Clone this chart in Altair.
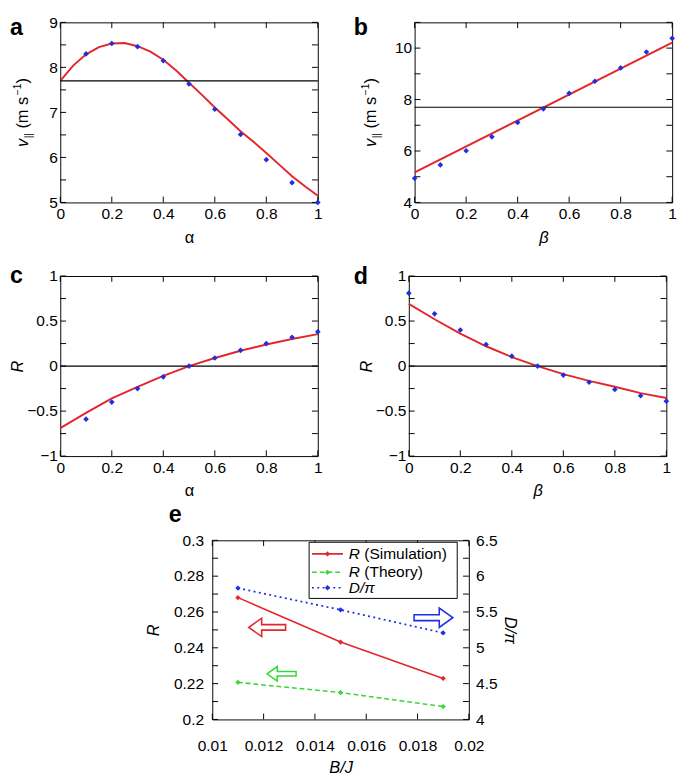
import altair as alt
import pandas as pd

FONT = "Liberation Sans"
RED = "#e3262b"
BLUE = "#1f2ee0"
GREEN = "#38d838"

# ---------------- data ----------------
a_fit_x = [0.0, 0.05, 0.1, 0.15, 0.2, 0.25, 0.3, 0.35, 0.4, 0.45, 0.5,
           0.55, 0.6, 0.65, 0.7, 0.75, 0.8, 0.85, 0.9, 0.95, 1.0]
a_fit_y = [7.70, 8.04, 8.29, 8.45, 8.53, 8.54, 8.47, 8.35, 8.17, 7.93, 7.66,
           7.39, 7.11, 6.85, 6.58, 6.35, 6.10, 5.84, 5.58, 5.36, 5.15]
a_pts_x = [0.1, 0.2, 0.3, 0.4, 0.5, 0.6, 0.7, 0.8, 0.9, 1.0]
a_pts_y = [8.30, 8.53, 8.46, 8.15, 7.63, 7.07, 6.51, 5.95, 5.44, 5.00]
a_ref = [7.7]

b_fit_x = [0.0, 1.0]
b_fit_y = [5.17, 10.21]
b_pts_x = [0.0, 0.1, 0.2, 0.3, 0.4, 0.5, 0.6, 0.7, 0.8, 0.9, 1.0]
b_pts_y = [4.94, 5.46, 6.01, 6.55, 7.11, 7.64, 8.24, 8.71, 9.23, 9.85, 10.38]
b_ref = [7.7]

c_fit_x = [0.0, 0.1, 0.2, 0.3, 0.4, 0.5, 0.6, 0.7, 0.8, 0.9, 1.0]
c_fit_y = [-0.69, -0.52, -0.36, -0.23, -0.11, 0.0, 0.09, 0.17, 0.24, 0.30, 0.355]
c_pts_x = [0.1, 0.2, 0.3, 0.4, 0.5, 0.6, 0.7, 0.8, 0.9, 1.0]
c_pts_y = [-0.59, -0.40, -0.25, -0.12, 0.0, 0.09, 0.175, 0.25, 0.32, 0.38]
c_ref = [0.0]

d_fit_x = [0.0, 0.1, 0.2, 0.3, 0.4, 0.5, 0.6, 0.7, 0.8, 0.9, 1.0]
d_fit_y = [0.69, 0.52, 0.36, 0.22, 0.10, 0.0, -0.09, -0.165, -0.23, -0.30, -0.355]
d_pts_x = [0.0, 0.1, 0.2, 0.3, 0.4, 0.5, 0.6, 0.7, 0.8, 0.9, 1.0]
d_pts_y = [0.81, 0.58, 0.40, 0.24, 0.11, 0.0, -0.10, -0.18, -0.26, -0.33, -0.39]
d_ref = [0.0]

e_x = [0.011, 0.015, 0.019]
e_r_sim = [0.268, 0.2432, 0.2229]
e_r_theory = [0.2207, 0.2150, 0.2072]
e_d_pi = [5.833, 5.53, 5.207]
# annotation arrows (x, y on their own axis)
e_arrow_red = ([0.01214], [0.2514])
e_arrow_green = ([0.0127], [0.2255])
e_arrow_blue = ([0.01862], [5.42])

# tick values
ab_x_ticks = [0, 0.2, 0.4, 0.6, 0.8, 1]
a_y_ticks = [5, 5.5, 6, 6.5, 7, 7.5, 8, 8.5, 9]
b_y_ticks = [4, 5, 6, 7, 8, 9, 10, 11]
cd_y_ticks = [-1, -0.75, -0.5, -0.25, 0, 0.25, 0.5, 0.75, 1]
e_x_ticks = [0.01, 0.012, 0.014, 0.016, 0.018, 0.02]
e_yl_ticks = [0.2, 0.21, 0.22, 0.23, 0.24, 0.25, 0.26, 0.27, 0.28, 0.29, 0.3]
e_yr_ticks = [4, 4.25, 4.5, 4.75, 5, 5.25, 5.5, 5.75, 6, 6.25, 6.5]

leg_main = ["R", "R", "D/π"]
leg_rest = ["(Simulation)", "(Theory)", ""]

LEFT_ARROW = "M -1 0 L -0.3 -0.5 L -0.3 -0.15 L 1 -0.15 L 1 0.15 L -0.3 0.15 L -0.3 0.5 Z"
RIGHT_ARROW = "M 1 0 L 0.3 -0.5 L 0.3 -0.15 L -1 -0.15 L -1 0.15 L 0.3 0.15 L 0.3 0.5 Z"

FS = 16     # tick labels
TFS = 17    # axis titles
TICK = 6


def ax(orient, values, title=None, label_expr=None, label_pad=6, title_pad=6,
       title_style="normal"):
    kw = dict(orient=orient, values=values, domain=False, ticks=False, grid=False,
              labelFont=FONT, labelFontSize=FS, labelColor="black",
              labelPadding=label_pad, labelOverlap=False, labelFlush=False, format="~g")
    if label_expr:
        kw["labelExpr"] = label_expr
    if title:
        kw.update(title=title, titleFont=FONT, titleFontSize=TFS, titleFontWeight="normal",
                  titleColor="black", titlePadding=title_pad, titleFontStyle=title_style)
    else:
        kw["title"] = None
    return alt.Axis(**kw)


def text_layer(txt, x, y, **mk):
    return alt.Chart(pd.DataFrame({"t": [txt]})).mark_text(font=FONT, color="black", **mk).encode(
        x=alt.value(x), y=alt.value(y), text="t:N")


def tick_layers(xvals, yvals, xs, ys, w, h, yvals_r=None, ys_r=None):
    out = []
    dx = pd.DataFrame({"v": xvals})
    dy = pd.DataFrame({"v": yvals})
    rule = dict(color="black", strokeWidth=1)
    out.append(alt.Chart(dx).mark_rule(**rule).encode(
        x=alt.X("v:Q", scale=xs, axis=None), y=alt.value(h - TICK), y2=alt.value(h)))
    out.append(alt.Chart(dx).mark_rule(**rule).encode(
        x=alt.X("v:Q", scale=xs, axis=None), y=alt.value(0), y2=alt.value(TICK)))
    out.append(alt.Chart(dy).mark_rule(**rule).encode(
        y=alt.Y("v:Q", scale=ys, axis=None), x=alt.value(0), x2=alt.value(TICK)))
    if yvals_r is None:
        out.append(alt.Chart(dy).mark_rule(**rule).encode(
            y=alt.Y("v:Q", scale=ys, axis=None), x=alt.value(w - TICK), x2=alt.value(w)))
    else:
        out.append(alt.Chart(pd.DataFrame({"v": yvals_r})).mark_rule(**rule).encode(
            y=alt.Y("v:Q", scale=ys_r, axis=None), x=alt.value(w - TICK), x2=alt.value(w)))
    return out


def vtitle(xpos, ymid):
    pieces = [("v", TFS, "italic", 0, 0), ("||", 10.5, "normal", 9, 4),
              ("(m s", TFS, "normal", 19, 0), ("\u22121", 10.5, "normal", 53.5, -7.5),
              (")", TFS, "normal", 65.5, 0)]
    total = 71.5
    start = ymid + total / 2
    return [text_layer(t, xpos, start, fontSize=s, fontStyle=st, angle=270, align="left",
                       baseline="alphabetic", dx=dx, dy=dy) for t, s, st, dx, dy in pieces]


W, H = 266, 186


def panel(letter, lx, ly, fit_x, fit_y, pts_x, pts_y, ref, ydom, yticks, yexpr,
          xtitle, xstyle, ytitle=None, custom_title_x=None):
    xs = alt.Scale(domain=[0, 1], nice=False, zero=False)
    ys = alt.Scale(domain=ydom, nice=False, zero=False)
    ref_l = alt.Chart(pd.DataFrame({"y": ref})).mark_rule(color="black", strokeWidth=1.2).encode(
        y=alt.Y("y:Q", scale=ys, axis=None))
    fit_l = alt.Chart(pd.DataFrame({"x": fit_x, "y": fit_y})).mark_line(
        color=RED, strokeWidth=2).encode(
        x=alt.X("x:Q", scale=xs, axis=ax("bottom", ab_x_ticks, title=xtitle,
                                         label_pad=4, title_pad=8, title_style=xstyle)),
        y=alt.Y("y:Q", scale=ys, axis=ax("left", yticks, title=ytitle, label_expr=yexpr,
                                         label_pad=3, title_pad=0, title_style="italic")))
    pts_l = alt.Chart(pd.DataFrame({"x": pts_x, "y": pts_y})).mark_point(
        shape="diamond", filled=True, color=BLUE, size=34, opacity=1).encode(
        x=alt.X("x:Q", scale=xs, axis=None),
        y=alt.Y("y:Q", scale=ys, axis=None))
    let_l = text_layer(letter, lx, ly, fontSize=24, fontWeight="bold", align="left",
                       baseline="alphabetic")
    layers = [fit_l, ref_l] + tick_layers(ab_x_ticks, yticks, xs, ys, W, H) + [pts_l, let_l]
    if custom_title_x is not None:
        layers += vtitle(custom_title_x, H / 2)
    return alt.layer(*layers).resolve_axis(x="independent", y="independent").properties(
        width=W, height=H)


half = "abs(datum.value*2 - round(datum.value*2)) < 1e-6 ? datum.label : ''"
pa = panel("a", -52, 13, a_fit_x, a_fit_y, a_pts_x, a_pts_y, a_ref, [5, 9], a_y_ticks,
           "datum.value % 1 == 0 ? datum.label : ''", "\u03b1", "normal", custom_title_x=-33)
pb = panel("b", -63, 13, b_fit_x, b_fit_y, b_pts_x, b_pts_y, b_ref, [4, 11], b_y_ticks,
           "datum.value % 2 == 0 ? datum.label : ''", "\u03b2", "italic", custom_title_x=-40)
pc = panel("c", -52, 7, c_fit_x, c_fit_y, c_pts_x, c_pts_y, c_ref, [-1, 1], cd_y_ticks,
           half, "\u03b1", "normal", ytitle="R")
pd_ = panel("d", -57, 8, d_fit_x, d_fit_y, d_pts_x, d_pts_y, d_ref, [-1, 1], cd_y_ticks,
            half, "\u03b2", "italic", ytitle="R")

# ---------------- panel e ----------------
EW, EH = 265, 185
exs = alt.Scale(domain=[0.01, 0.02], nice=False, zero=False)
eyl = alt.Scale(domain=[0.2, 0.3], nice=False, zero=False)
eyr = alt.Scale(domain=[4, 6.5], nice=False, zero=False)

sim_l = alt.Chart(pd.DataFrame({"x": e_x, "y": e_r_sim})).mark_line(
    color=RED, strokeWidth=1.6,
    point=alt.OverlayMarkDef(shape="diamond", filled=True, color=RED, size=30)).encode(
    x=alt.X("x:Q", scale=exs, axis=ax("bottom", e_x_ticks, title="B/J", label_pad=19,
                                      title_pad=7, title_style="italic")),
    y=alt.Y("y:Q", scale=eyl, axis=ax("left", e_yl_ticks, title="R",
                                      label_expr="abs(datum.value*50 - round(datum.value*50)) < 1e-6 ? datum.label : ''",
                                      label_pad=9, title_pad=11, title_style="italic")))
th_l = alt.Chart(pd.DataFrame({"x": e_x, "y": e_r_theory})).mark_line(
    color=GREEN, strokeWidth=1.6, strokeDash=[5, 3],
    point=alt.OverlayMarkDef(shape="diamond", filled=True, color=GREEN, size=30)).encode(
    x=alt.X("x:Q", scale=exs, axis=None),
    y=alt.Y("y:Q", scale=eyl, axis=None))
dp_l = alt.Chart(pd.DataFrame({"x": e_x, "y": e_d_pi})).mark_line(
    color=BLUE, strokeWidth=1.8, strokeDash=[2, 3.5],
    point=alt.OverlayMarkDef(shape="diamond", filled=True, color=BLUE, size=30)).encode(
    x=alt.X("x:Q", scale=exs, axis=None),
    y=alt.Y("y:Q", scale=eyr, axis=ax("right", e_yr_ticks, title="D/\u03c0",
                                      label_expr=half, label_pad=7, title_pad=4,
                                      title_style="italic")))


def arrow(pos, scale, shape, color, size):
    return alt.Chart(pd.DataFrame({"x": pos[0], "y": pos[1]})).mark_point(
        shape=shape, filled=False, stroke=color, strokeWidth=1.6, size=size, opacity=1).encode(
        x=alt.X("x:Q", scale=exs, axis=None), y=alt.Y("y:Q", scale=scale, axis=None))


ar_r = arrow(e_arrow_red, eyl, LEFT_ARROW, RED, 1444)
ar_g = arrow(e_arrow_green, eyl, LEFT_ARROW, GREEN, 900)
ar_b = arrow(e_arrow_blue, eyr, RIGHT_ARROW, BLUE, 1600)

box = alt.Chart(pd.DataFrame({"a": [0]})).mark_rect(
    fill="white", stroke="black", strokeWidth=1).encode(
    x=alt.value(100), x2=alt.value(253), y=alt.value(2), y2=alt.value(60))
leg_layers = [box]
rows_y = [14, 33, 49]
colors = [RED, GREEN, BLUE]
dashes = [[1, 0], [5, 3], [2, 3.5]]
for i in range(3):
    leg_layers.append(alt.Chart(pd.DataFrame({"a": [0]})).mark_rule(
        color=colors[i], strokeWidth=1.6, strokeDash=dashes[i]).encode(
        x=alt.value(103), x2=alt.value(135), y=alt.value(rows_y[i])))
    leg_layers.append(alt.Chart(pd.DataFrame({"a": [0]})).mark_point(
        shape="diamond", filled=True, color=colors[i], size=30, opacity=1).encode(
        x=alt.value(119), y=alt.value(rows_y[i])))
    leg_layers.append(text_layer(leg_main[i], 141, rows_y[i], fontSize=16, fontStyle="italic",
                                 align="left", baseline="middle"))
    if leg_rest[i]:
        leg_layers.append(text_layer(leg_rest[i], 157, rows_y[i], fontSize=16,
                                     align="left", baseline="middle"))

let_e = text_layer("e", -45, -19, fontSize=24, fontWeight="bold", align="left",
                   baseline="alphabetic")

e_ticks = tick_layers(e_x_ticks, e_yl_ticks, exs, eyl, EW, EH, e_yr_ticks, eyr)

pe = alt.layer(sim_l, dp_l, th_l, *e_ticks, ar_r, ar_g, ar_b, *leg_layers, let_e).resolve_scale(
    y="independent").resolve_axis(x="independent", y="independent").properties(
    width=EW, height=EH)

spacer = alt.Chart(pd.DataFrame({"a": [0]})).mark_point(opacity=0).encode(
    x=alt.value(0), y=alt.value(0)).properties(
    width=87, height=10, view=alt.ViewBackground(strokeOpacity=0))

row1 = alt.hconcat(pa, pb, spacing=31)
row2 = alt.hconcat(pc, pd_, spacing=31)
row3 = alt.hconcat(spacer, pe, spacing=0)

top_rows = alt.vconcat(row1, row2, spacing=18)
chart = alt.vconcat(top_rows, row3, spacing=3).properties(
    padding={"left": 0, "top": -7, "right": 0, "bottom": 0},
    background="white").configure_view(stroke="black", strokeWidth=1)

chart.save("out.html", embed_options={"renderer": "svg", "actions": False})
